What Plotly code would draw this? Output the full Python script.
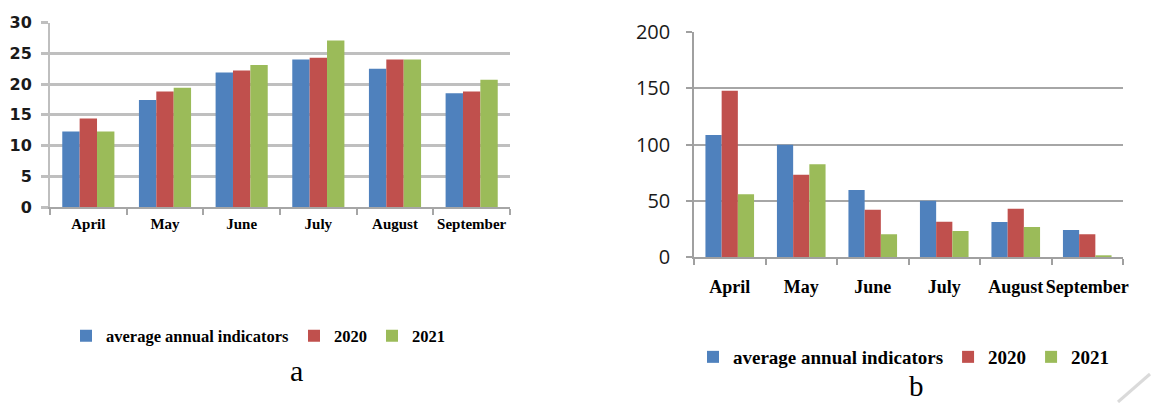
import plotly.graph_objects as go

months = ["April", "May", "June", "July", "August", "September"]
series_names = ["average annual indicators", "2020", "2021"]

# chart a
a_avg = [12.3, 17.4, 21.9, 24.0, 22.5, 18.5]
a_2020 = [14.4, 18.8, 22.2, 24.3, 24.0, 18.8]
a_2021 = [12.3, 19.4, 23.1, 27.1, 24.0, 20.7]

# chart b
b_avg = [108.6, 100.0, 59.6, 50.1, 31.2, 24.0]
b_2020 = [148.0, 73.3, 42.1, 31.4, 43.0, 20.2]
b_2021 = [55.8, 82.5, 20.2, 23.1, 26.7, 1.0]

a_ticks = [0, 5, 10, 15, 20, 25, 30]
b_ticks = [0, 50, 100, 150, 200]

colors = ["#4F81BD", "#C0504D", "#9BBB59"]

OX, OY = 8, 8  # page body margin
W, H = 1166 - OX, 403 - OY


def px(x):
    return (x - OX) / W


def py(y):
    return 1 - (y - OY) / H


fig = go.Figure()

for name, vals, c in zip(series_names, [a_avg, a_2020, a_2021], colors):
    fig.add_trace(go.Bar(x=months, y=vals, name=name, marker_color=c,
                         marker_line_width=0, xaxis="x", yaxis="y", legend="legend"))
for name, vals, c in zip(series_names, [b_avg, b_2020, b_2021], colors):
    fig.add_trace(go.Bar(x=months, y=vals, name=name, marker_color=c,
                         marker_line_width=0, xaxis="x2", yaxis="y2", legend="legend2"))

serif = "Liberation Serif"

fig.update_layout(
    width=W, height=H,
    margin=dict(l=0, r=0, t=0, b=0, autoexpand=False),
    paper_bgcolor="white", plot_bgcolor="white",
    barmode="group",
    bargap=0.32, bargroupgap=0,
    font=dict(family=serif, color="black"),
    xaxis=dict(domain=[px(50), px(510)], anchor="y", automargin=False, tickangle=0,
               showline=True, linecolor="#A6A6A6", linewidth=2,
               ticks="outside", tickson="boundaries", ticklen=6, tickcolor="#A6A6A6", tickwidth=2,
               tickfont=dict(family=serif, size=15, color="black", weight="bold"),
               ticklabelstandoff=2, showgrid=False),
    yaxis=dict(domain=[py(207), py(22.7)], anchor="x", range=[0, 30], automargin=False,
               tickvals=a_ticks, showline=True, linecolor="#BFBFBF", linewidth=2,
               ticks="outside", ticklen=7, tickcolor="#BFBFBF", tickwidth=3,
               showgrid=True, gridcolor="#BFBFBF", gridwidth=3,
               tickfont=dict(family="DejaVu Sans", size=16, color="#1a1a1a", weight="bold"),
               ticklabelstandoff=6, zeroline=False),
    xaxis2=dict(domain=[px(694), px(1123)], anchor="y2", automargin=False, tickangle=0,
                showline=True, linecolor="#A0A0A0", linewidth=1.5,
                ticks="outside", tickson="boundaries", ticklen=6, tickcolor="#A0A0A0", tickwidth=1.5,
                tickfont=dict(family=serif, size=18, color="black", weight="bold"),
                ticklabelstandoff=13, showgrid=False),
    yaxis2=dict(domain=[py(257), py(32.3)], anchor="x2", range=[0, 200], automargin=False,
                tickvals=b_ticks, showline=True, linecolor="#A0A0A0", linewidth=1.5,
                ticks="outside", ticklen=6, tickcolor="#A0A0A0", tickwidth=1.5,
                showgrid=True, gridcolor="#A6A6A6", gridwidth=1.5,
                tickfont=dict(family="Open Sans", size=20, color="#1a1a1a"),
                ticklabelstandoff=12, zeroline=False),
    legend=dict(orientation="h", x=px(66), xanchor="left", y=py(336), yanchor="middle",
                font=dict(family=serif, size=16.5, color="black", weight="bold"),
                bgcolor="rgba(0,0,0,0)", itemclick=False),
    legend2=dict(orientation="h", x=px(693), xanchor="left", y=py(357), yanchor="middle",
                 font=dict(family=serif, size=19, color="black", weight="bold"),
                 bgcolor="rgba(0,0,0,0)", itemclick=False),
    annotations=[
        dict(text="a", x=px(296), y=py(370), xref="paper", yref="paper",
             xanchor="center", yanchor="middle",
             showarrow=False, font=dict(family=serif, size=30, color="black")),
        dict(text="b", x=px(916), y=py(403), xref="paper", yref="paper",
             xanchor="center", yanchor="bottom", borderpad=0,
             showarrow=False, font=dict(family=serif, size=29, color="black")),
    ],
    shapes=[
        dict(type="line", xref="paper", yref="paper", x0=px(1118), y0=py(402),
             x1=px(1150), y1=py(374), line=dict(color="#DADADA", width=3)),
    ],
)

fig.write_html("out.html")
